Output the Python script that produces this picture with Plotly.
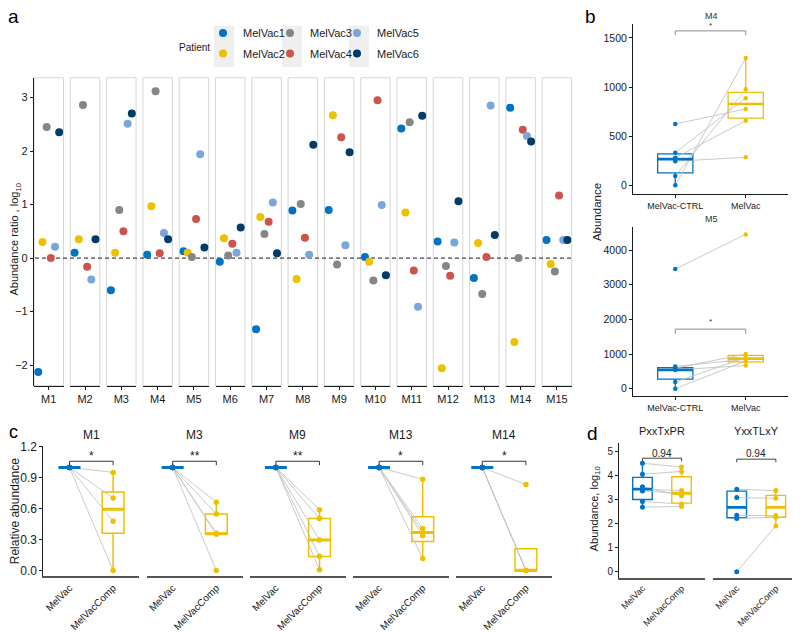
import plotly.graph_objects as go

# the page body has an 8px margin: the figure is drawn 8px in from the top-left corner
OFF = 8
W, H = 800 - OFF, 632 - OFF
FONT = "Liberation Sans, Arial, Helvetica, sans-serif"


def fx(p):
    return (p - OFF) / W


def fy(p):
    return 1 - (p - OFF) / H


# ---------------- DATA ----------------
patients = ["MelVac1", "MelVac2", "MelVac3", "MelVac4", "MelVac5", "MelVac6"]
patient_colors = ["#0073C2", "#EFC000", "#868686", "#CD534C", "#7AA6DC", "#003C67"]
motifs = ["M1", "M2", "M3", "M4", "M5", "M6", "M7", "M8", "M9", "M10", "M11", "M12", "M13", "M14", "M15"]
ratio_mv1 = [-2.13, 0.10, -0.60, 0.06, 0.13, -0.07, -1.33, 0.89, 0.90, 0.02, 2.42, 0.31, -0.37, 2.81, 0.34]
ratio_mv2 = [0.30, 0.35, 0.10, 0.97, 0.10, 0.37, 0.77, -0.39, 2.67, -0.07, 0.85, -2.06, 0.28, -1.57, -0.11]
ratio_mv3 = [2.45, 2.86, 0.90, 3.12, 0.02, 0.05, 0.45, 1.01, -0.12, -0.42, 2.54, -0.15, -0.67, 0.00, -0.25]
ratio_mv4 = [0.00, -0.16, 0.50, 0.09, 0.73, 0.27, 0.68, 0.38, 2.26, 2.95, -0.23, -0.33, 0.02, 2.40, 1.17]
ratio_mv5 = [0.21, -0.40, 2.51, 0.47, 1.94, 0.10, 1.04, 0.06, 0.24, 0.99, -0.91, 0.29, 2.85, 2.28, 0.34]
ratio_mv6 = [2.35, 0.35, 2.70, 0.35, 0.20, 0.57, 0.09, 2.12, 1.98, -0.32, 2.66, 1.06, 0.43, 2.18, 0.34]
ratios = [ratio_mv1, ratio_mv2, ratio_mv3, ratio_mv4, ratio_mv5, ratio_mv6]

# panel b
b_groups = ["MelVac-CTRL", "MelVac"]
b_titles = ["M4", "M5"]
b_ctrl = [[0, 94, 245, 280, 332, 624], [0, 190, 540, 590, 640, 3453]]
b_vac = [[1295, 976, 285, 657, 886, 777], [800, 900, 670, 1000, 850, 4453]]
b_ctrl_stats = [dict(q1=126, med=266, q3=319, lo=0, hi=332), dict(q1=274, med=538, q3=603, lo=0, hi=640)]
b_vac_stats = [dict(q1=684, med=827, q3=946, lo=657, hi=1295), dict(q1=774, med=868, q3=962, lo=670, hi=1000)]
b_sig = ["*", "*"]
b_bracket = [(1528, 1571, 1630), (1585, 1718, 1933)]
b_ranges = [(-90, 1640), (-218, 4671)]
b_ticks = [[0, 500, 1000, 1500], [0, 1000, 2000, 3000, 4000]]

# panel c
c_groups = ["MelVac", "MelVacComp"]
c_motifs = ["M1", "M3", "M9", "M13", "M14"]
c_comp = [[0.952, 0.704, 0.478, 0.0],
          [0.662, 0.548, 0.36, 0.35, 0.0],
          [0.589, 0.503, 0.296, 0.137, 0.006],
          [0.885, 0.407, 0.369, 0.337, 0.115],
          [0.834, 0.0, 0.0, 0.0]]
c_ref_value = 1.0
c_comp_q1 = [0.36, 0.35, 0.134, 0.28, 0.0]
c_comp_med = [0.595, 0.357, 0.296, 0.369, 0.0]
c_comp_q3 = [0.761, 0.548, 0.503, 0.522, 0.21]
c_comp_lo = [0.0, 0.35, 0.006, 0.115, 0.0]
c_comp_hi = [0.952, 0.662, 0.589, 0.885, 0.21]
c_sig = ["*", "**", "**", "*", "*"]
c_bracket = (1.022, 1.06, 1.115)

# panel d
d_titles = ["PxxTxPR", "YxxTLxY"]
d_vac = [[4.52, 4.06, 3.54, 3.44, 3.36, 2.93, 2.69], [3.44, 3.09, 2.35, 2.22, 0.0]]
d_comp = [[4.36, 4.18, 3.16, 3.38, 3.27, 2.82, 2.72], [3.38, 3.06, 2.34, 2.27, 1.91]]
d_vac_stats = [dict(q1=3.01, med=3.44, q3=3.93, lo=2.69, hi=4.52), dict(q1=2.25, med=2.68, q3=3.36, lo=2.22, hi=3.44)]
d_comp_stats = [dict(q1=2.86, med=3.27, q3=3.96, lo=2.72, hi=4.36), dict(q1=2.27, med=2.68, q3=3.18, lo=1.91, hi=3.38)]
d_pvals = ["0.94", "0.94"]
d_bracket = [(4.60, 4.73, 4.94), (4.56, 4.69, 4.94)]

BLUE, YELLOW = "#0073C2", "#EFC000"
PAIR_GRAY = "#c4c4c4"

traces = []
layout = dict(
    width=W, height=H, margin=dict(l=0, r=0, t=0, b=0),
    paper_bgcolor="white", plot_bgcolor="white",
    font=dict(family=FONT, color="#1a1a1a", size=11),
    showlegend=True,
)
shapes = []
annotations = []

AX = dict(showgrid=False, zeroline=False, fixedrange=True)

# ---------------- PANEL A ----------------
layout["yaxis"] = dict(AX, domain=[fy(387), fy(73)], range=[-2.385, 3.37], anchor="free", position=fx(33),
                       tickvals=[-2, -1, 0, 1, 2, 3], ticks="outside", ticklen=3, tickcolor="#1a1a1a",
                       showline=True, linecolor="#1a1a1a", linewidth=1.2, tickfont=dict(size=11, color="#1a1a1a"))
dodge = 0.85 / 6
facet_left0, facet_step, facet_w = 34.0, 36.3, 29.5
for i, m in enumerate(motifs):
    key = "xaxis" if i == 0 else f"xaxis{i + 1}"
    ref = "x" if i == 0 else f"x{i + 1}"
    left = facet_left0 + facet_step * i
    layout[key] = dict(AX, domain=[fx(left), fx(left + facet_w)], range=[-0.5, 0.5], anchor="y",
                       tickvals=[0], ticktext=[m], ticks="outside", ticklen=3, tickcolor="#1a1a1a",
                       showline=True, linecolor="#1a1a1a", linewidth=1.3, tickfont=dict(size=11, color="#1a1a1a"))
    shapes.append(dict(type="rect", xref=f"{ref} domain", yref="y domain", x0=0, x1=1, y0=0, y1=1,
                       line=dict(color="#d6d6d6", width=1), fillcolor="rgba(0,0,0,0)", layer="below"))
    for k, p in enumerate(patients):
        traces.append(go.Scatter(
            x=[(k - 2.5) * dodge], y=[ratios[k][i]], xaxis=ref, yaxis="y", mode="markers",
            marker=dict(size=8, color=patient_colors[k]), name=p, legendgroup=p,
            legend="legend" if k == 0 else f"legend{k + 1}", showlegend=(i == 0), hoverinfo="skip"))

shapes.append(dict(type="line", xref="paper", yref="y", x0=fx(35), x1=fx(574), y0=0, y1=0,
                   line=dict(color="#1a1a1a", width=1, dash="4px,3px"), layer="below"))

# legend (one legend per entry to reproduce the 3x2 grid)
leg_cols = [203, 270, 337]
leg_rows = [12.5, 33.5]
for k in range(6):
    col, row = k // 2, k % 2
    lkey = "legend" if k == 0 else f"legend{k + 1}"
    layout[lkey] = dict(x=fx(leg_cols[col]), y=fy(leg_rows[row]), xanchor="left", yanchor="top",
                        bgcolor="rgba(0,0,0,0)", borderwidth=0, font=dict(size=11, color="#1a1a1a"),
                        orientation="v", tracegroupgap=0)
for cx in [224, 292, 359]:
    shapes.append(dict(type="rect", xref="paper", yref="paper", x0=fx(cx - 10), x1=fx(cx + 10),
                       y0=fy(62), y1=fy(20), fillcolor="#efefef", line=dict(width=0), layer="below"))
annotations.append(dict(text="Patient", x=fx(194), y=fy(42), xref="paper", yref="paper", showarrow=False,
                        font=dict(size=10, color="#1a1a1a"), xanchor="center", yanchor="middle"))
annotations.append(dict(text="Abundance ratio , log<sub>10</sub>", x=fx(15), y=fy(238), xref="paper", yref="paper",
                        showarrow=False, textangle=-90, font=dict(size=11, color="#1a1a1a"),
                        xanchor="center", yanchor="middle"))


# ---------------- helpers ----------------
def add_box(xa, ya, xpos, st, color, bw=0.5, lw=1.4):
    traces.append(go.Box(x=[xpos], q1=[st["q1"]], median=[st["med"]], q3=[st["q3"]],
                         lowerfence=[st["lo"]], upperfence=[st["hi"]], width=bw, xaxis=xa, yaxis=ya,
                         line=dict(color=color, width=lw), fillcolor="rgba(255,255,255,0)",
                         whiskerwidth=0, boxpoints=False, showlegend=False, hoverinfo="skip"))
    traces.append(go.Scatter(x=[xpos - bw / 2, xpos + bw / 2], y=[st["med"], st["med"]], mode="lines",
                             line=dict(color=color, width=lw * 2), xaxis=xa, yaxis=ya,
                             showlegend=False, hoverinfo="skip"))


def add_pairs(xa, ya, a_vals, b_vals):
    xs, ys = [], []
    for a, b in zip(a_vals, b_vals):
        xs += [0, 1, None]
        ys += [a, b, None]
    traces.append(go.Scatter(x=xs, y=ys, mode="lines", line=dict(color=PAIR_GRAY, width=0.9),
                             xaxis=xa, yaxis=ya, showlegend=False, hoverinfo="skip", connectgaps=False))


def add_points(xa, ya, xpos, vals, color, size):
    traces.append(go.Scatter(x=[xpos] * len(vals), y=vals, mode="markers", marker=dict(size=size, color=color),
                             xaxis=xa, yaxis=ya, showlegend=False, hoverinfo="skip"))


def add_bracket(xa, ya, lo, hi, color, lw=1):
    traces.append(go.Scatter(x=[0, 0, 1, 1], y=[lo, hi, hi, lo], mode="lines",
                             line=dict(color=color, width=lw), xaxis=xa, yaxis=ya,
                             showlegend=False, hoverinfo="skip"))


# ---------------- PANEL B ----------------
b_dom_y = [(191.7, 18.3), (397.7, 225.0)]
b_title_y = [10, 216.7]
for j in range(2):
    xn, yn = 16 + j, 2 + j
    xa, ya = f"x{xn}", f"y{yn}"
    layout[f"xaxis{xn}"] = dict(AX, domain=[fx(633), fx(788)], range=[-0.6, 1.6], anchor=ya,
                                tickvals=[0, 1], ticktext=b_groups, ticks="outside", ticklen=3,
                                tickcolor="#1a1a1a", showline=True, linecolor="#1a1a1a", linewidth=1,
                                tickfont=dict(size=9, color="#1a1a1a"))
    layout[f"yaxis{yn}"] = dict(AX, domain=[fy(b_dom_y[j][0]), fy(b_dom_y[j][1])], range=list(b_ranges[j]),
                                anchor=xa, tickvals=b_ticks[j], ticks="outside", ticklen=3, tickcolor="#1a1a1a",
                                showline=True, linecolor="#1a1a1a", linewidth=1,
                                tickfont=dict(size=10.5, color="#1a1a1a"))
    add_pairs(xa, ya, b_ctrl[j], b_vac[j])
    add_box(xa, ya, 0, b_ctrl_stats[j], BLUE, lw=1.3)
    add_box(xa, ya, 1, b_vac_stats[j], YELLOW, lw=1.3)
    add_points(xa, ya, 0, b_ctrl[j], BLUE, 4.5)
    add_points(xa, ya, 1, b_vac[j], YELLOW, 4.5)
    lo, hi, ly = b_bracket[j]
    add_bracket(xa, ya, lo, hi, "#8c8c8c", 1)
    annotations.append(dict(text=b_sig[j], x=0.5, y=ly, xref=xa, yref=ya, showarrow=False,
                            font=dict(size=8, color="#333333"), xanchor="center", yanchor="middle"))
    annotations.append(dict(text=b_titles[j], x=fx(711), y=fy(b_title_y[j]), xref="paper", yref="paper",
                            showarrow=False, font=dict(size=9, color="#333333"),
                            xanchor="center", yanchor="middle"))
annotations.append(dict(text="Abundance", x=fx(597), y=fy(210), xref="paper", yref="paper", showarrow=False,
                        textangle=-90, font=dict(size=11.5, color="#1a1a1a"), xanchor="center", yanchor="middle"))

# ---------------- PANEL C ----------------
layout["yaxis4"] = dict(AX, domain=[fy(581.3), fy(448.3)], range=[-0.057, 1.21], anchor="x18",
                        tickvals=[0, 0.3, 0.6, 0.9, 1.2], tickformat=".1f", ticks="outside", ticklen=3,
                        tickcolor="#1a1a1a", showline=True, linecolor="#1a1a1a", linewidth=1,
                        tickfont=dict(size=12, color="#1a1a1a"))
for j, m in enumerate(c_motifs):
    xn = 18 + j
    xa, ya = f"x{xn}", "y4"
    left = 43.3 + 103.2 * j
    layout[f"xaxis{xn}"] = dict(AX, domain=[fx(left), fx(left + 96)], range=[-0.6, 1.6], anchor="y4",
                                tickvals=[0, 1], ticktext=c_groups, tickangle=-45, ticks="",
                                showline=True, linecolor="#555555", linewidth=2,
                                tickfont=dict(size=10, color="#1a1a1a"))
    ref_vals = [c_ref_value] * len(c_comp[j])
    add_pairs(xa, ya, ref_vals, c_comp[j])
    add_box(xa, ya, 0, dict(q1=c_ref_value, med=c_ref_value, q3=c_ref_value, lo=c_ref_value, hi=c_ref_value),
            BLUE, lw=1.5)
    add_box(xa, ya, 1, dict(q1=c_comp_q1[j], med=c_comp_med[j], q3=c_comp_q3[j], lo=c_comp_lo[j],
                            hi=c_comp_hi[j]), YELLOW, lw=1.5)
    add_points(xa, ya, 0, ref_vals, BLUE, 5.5)
    add_points(xa, ya, 1, c_comp[j], YELLOW, 5.5)
    lo, hi, ly = c_bracket
    add_bracket(xa, ya, lo, hi, "#333333", 1)
    annotations.append(dict(text=c_sig[j], x=0.5, y=ly, xref=xa, yref=ya, showarrow=False,
                            font=dict(size=12, color="#1a1a1a"), xanchor="center", yanchor="middle"))
    annotations.append(dict(text=m, x=fx(left + 48), y=fy(437), xref="paper", yref="paper", showarrow=False,
                            font=dict(size=12, color="#1a1a1a"), xanchor="center", yanchor="middle"))
annotations.append(dict(text="Relative abundance", x=fx(15), y=fy(515), xref="paper", yref="paper",
                        showarrow=False, textangle=-90, font=dict(size=12, color="#1a1a1a"),
                        xanchor="center", yanchor="middle"))

# ---------------- PANEL D ----------------
layout["yaxis5"] = dict(AX, domain=[fy(582.7), fy(445)], range=[-0.245, 5.38], anchor="x23",
                        tickvals=[0, 1, 2, 3, 4, 5], ticks="outside", ticklen=3, tickcolor="#1a1a1a",
                        showline=True, linecolor="#1a1a1a", linewidth=1, tickfont=dict(size=10, color="#1a1a1a"))
d_left = [619, 713.3]
for j in range(2):
    xn = 23 + j
    xa, ya = f"x{xn}", "y5"
    layout[f"xaxis{xn}"] = dict(AX, domain=[fx(d_left[j]), fx(min(d_left[j] + 86, 799.5))], range=[-0.6, 1.6],
                                anchor="y5", tickvals=[0, 1], ticktext=c_groups, tickangle=-45, ticks="",
                                showline=True, linecolor="#555555", linewidth=2,
                                tickfont=dict(size=9, color="#1a1a1a"))
    add_pairs(xa, ya, d_vac[j], d_comp[j])
    add_box(xa, ya, 0, d_vac_stats[j], BLUE, lw=1.4)
    add_box(xa, ya, 1, d_comp_stats[j], YELLOW, lw=1.4)
    add_points(xa, ya, 0, d_vac[j], BLUE, 5)
    add_points(xa, ya, 1, d_comp[j], YELLOW, 5)
    lo, hi, ly = d_bracket[j]
    add_bracket(xa, ya, lo, hi, "#444444", 1)
    annotations.append(dict(text=d_pvals[j], x=0.5, y=ly, xref=xa, yref=ya, showarrow=False,
                            font=dict(size=10, color="#1a1a1a"), xanchor="center", yanchor="middle"))
    annotations.append(dict(text=d_titles[j], x=fx(d_left[j] + 43), y=fy(433), xref="paper", yref="paper",
                            showarrow=False, font=dict(size=11, color="#1a1a1a"),
                            xanchor="center", yanchor="middle"))
annotations.append(dict(text="Abundance, log<sub>10</sub>", x=fx(595), y=fy(513), xref="paper", yref="paper",
                        showarrow=False, textangle=-90, font=dict(size=11, color="#1a1a1a"),
                        xanchor="center", yanchor="middle"))

# panel letters
for lab, px, py, sz in [("a", 13, 11, 19), ("b", 590, 11, 19), ("c", 13, 434, 18), ("d", 592, 436, 19)]:
    annotations.append(dict(text=lab, x=fx(px), y=fy(py), xref="paper", yref="paper", showarrow=False,
                            font=dict(size=sz, color="#000000"), xanchor="center", yanchor="middle"))

layout["shapes"] = shapes
layout["annotations"] = annotations

fig = go.Figure(data=traces, layout=layout)
fig.write_html("out.html")
